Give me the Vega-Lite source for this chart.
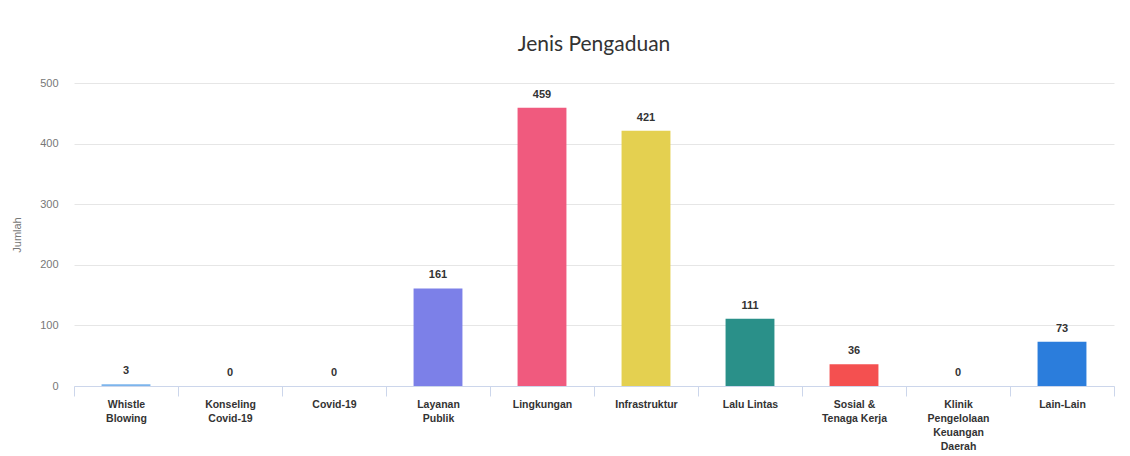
{
  "$schema": "https://vega.github.io/schema/vega-lite/v6.json",
  "width": 1040,
  "height": 303,
  "autosize": {"type": "none"},
  "padding": {"left": 74, "top": 83, "right": 16, "bottom": 70},
  "background": "white",
  "config": {"view": {"stroke": null}},
  "title": {"text": "Jenis Pengaduan", "fontSize": 21, "font": "Lato", "fontWeight": "normal", "color": "#333333", "anchor": "middle", "offset": 22},
  "data": {"values": [
    {"jenis": "Whistle Blowing", "jumlah": 3},
    {"jenis": "Konseling Covid-19", "jumlah": 0},
    {"jenis": "Covid-19", "jumlah": 0},
    {"jenis": "Layanan Publik", "jumlah": 161},
    {"jenis": "Lingkungan", "jumlah": 459},
    {"jenis": "Infrastruktur", "jumlah": 421},
    {"jenis": "Lalu Lintas", "jumlah": 111},
    {"jenis": "Sosial & Tenaga Kerja", "jumlah": 36},
    {"jenis": "Klinik Pengelolaan Keuangan Daerah", "jumlah": 0},
    {"jenis": "Lain-Lain", "jumlah": 73}
  ]},
  "encoding": {
    "x": {
      "field": "jenis", "type": "nominal", "sort": null,
      "scale": {"paddingInner": 0, "paddingOuter": 0},
      "axis": {
        "title": null, "labelAngle": 0, "tickBand": "extent", "tickSize": 10,
        "domainColor": "#ccd6eb", "tickColor": "#ccd6eb",
        "labelFont": "Liberation Sans", "labelFontSize": 10.5, "labelFontWeight": "bold", "labelColor": "#333333",
        "labelPadding": 3, "labelLineHeight": 14, "labelBaseline": "top",
        "labelExpr": "datum.value == 'Whistle Blowing' ? ['Whistle','Blowing'] : datum.value == 'Konseling Covid-19' ? ['Konseling','Covid-19'] : datum.value == 'Layanan Publik' ? ['Layanan','Publik'] : datum.value == 'Sosial & Tenaga Kerja' ? ['Sosial &','Tenaga Kerja'] : datum.value == 'Klinik Pengelolaan Keuangan Daerah' ? ['Klinik','Pengelolaan','Keuangan','Daerah'] : datum.value"
      }
    },
    "y": {
      "field": "jumlah", "type": "quantitative",
      "scale": {"domain": [0, 500], "nice": false},
      "axis": {
        "title": "Jumlah", "values": [0, 100, 200, 300, 400, 500],
        "domain": false, "ticks": false, "gridColor": "#e6e6e6",
        "labelFont": "Liberation Sans", "labelFontSize": 11, "labelColor": "#777777", "labelPadding": 16,
        "titleFont": "Liberation Sans", "titleFontSize": 11, "titleFontWeight": "normal", "titleColor": "#777777", "titlePadding": 17
      }
    }
  },
  "layer": [
    {
      "mark": {"type": "bar", "width": {"band": 0.47}},
      "encoding": {
        "color": {
          "field": "jenis", "type": "nominal", "legend": null,
          "scale": {
            "domain": ["Whistle Blowing", "Konseling Covid-19", "Covid-19", "Layanan Publik", "Lingkungan", "Infrastruktur", "Lalu Lintas", "Sosial & Tenaga Kerja", "Klinik Pengelolaan Keuangan Daerah", "Lain-Lain"],
            "range": ["#7cb5ec", "#434348", "#90ed7d", "#7c80e8", "#f05a7e", "#e4d050", "#2a9089", "#f45050", "#91e8e1", "#2b7ddc"]
          }
        }
      }
    },
    {
      "mark": {"type": "text", "dy": -8, "baseline": "bottom", "font": "Liberation Sans", "fontSize": 11, "fontWeight": "bold", "color": "#333333"},
      "encoding": {"text": {"field": "jumlah", "type": "quantitative"}}
    }
  ]
}
